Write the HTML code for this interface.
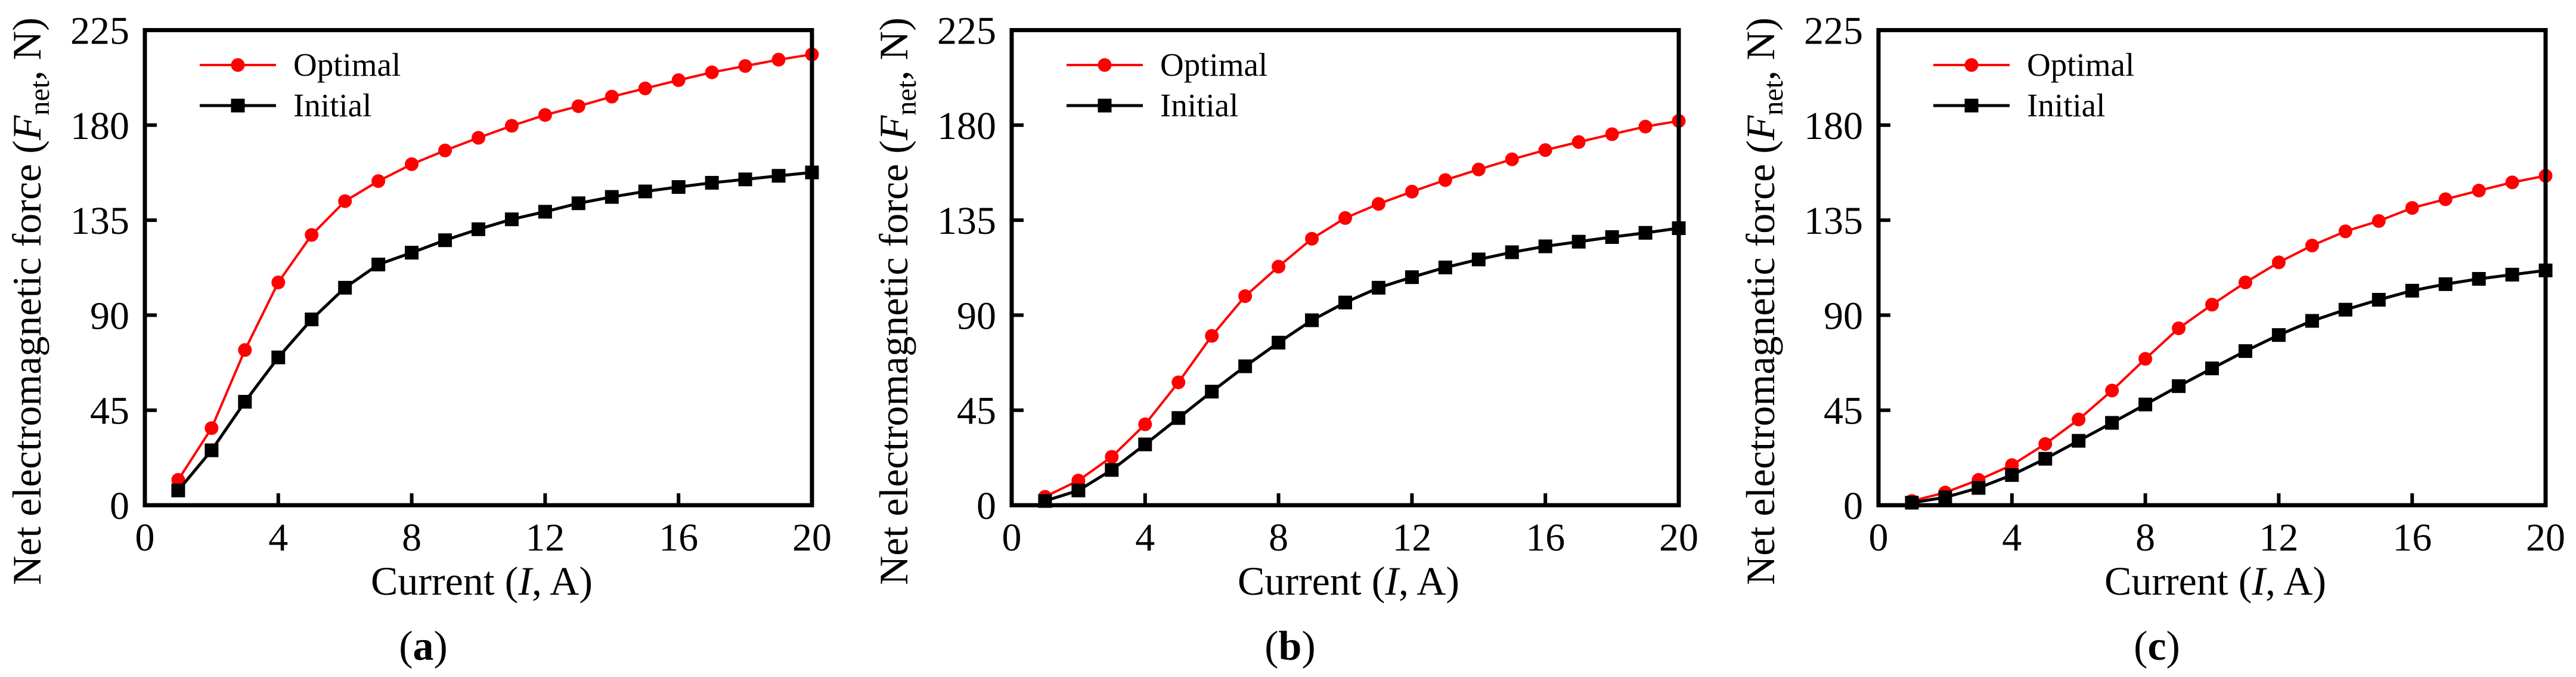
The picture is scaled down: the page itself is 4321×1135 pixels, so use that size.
<!DOCTYPE html>
<html><head><meta charset="utf-8"><style>
html,body{margin:0;padding:0;background:#fff;}
svg{display:block;font-family:"Liberation Serif","Times New Roman",serif;}
</style></head><body>
<svg id="fig" width="4321" height="1135" viewBox="0 0 4321 1135" xmlns="http://www.w3.org/2000/svg"></svg>
<script>
const currents = [1,2,3,4,5,6,7,8,9,10,11,12,13,14,15,16,17,18,19,20];
const optimalA = [12,36.5,73.5,105.5,128,144,153.5,161.5,168,174,179.7,184.8,189,193.5,197.4,201.3,205,208,211,213.5];
const initialA = [7,26,49,70,88,103,114,119.6,125.5,130.7,135.4,139,143,146,148.6,150.7,152.7,154.3,156,157.6];
const optimalB = [4,11.7,22.9,38.3,58.2,80.2,99,113,126.2,136,142.7,148.5,154,159,163.8,168.2,172,175.7,179.3,182];
const initialB = [2,7,16.7,28.8,41.3,53.8,65.8,77,87.6,96,103,108,112.6,116.4,119.8,122.6,124.8,127,129,131.2];
const optimalC = [2,6,12,19,29,40.6,54.3,69.3,83.8,95,105.5,115,123,129.7,134.6,140.8,144.9,149,152.9,156];
const initialC = [1.2,3.7,8.2,14.3,22,30.5,39,47.7,56.4,64.8,73,80.6,87.3,92.6,97.3,101.6,104.7,107.2,109.2,111.2];
const xTicks = [0,4,8,12,16,20];
const yTicks = [0,45,90,135,180,225];
const panelLabels = ['a','b','c'];

const NS='http://www.w3.org/2000/svg';
const svg=document.getElementById('fig');
function mk(tag,attrs,parent){const e=document.createElementNS(NS,tag);for(const k in attrs)e.setAttribute(k,attrs[k]);(parent||svg).appendChild(e);return e;}

const panels=[[optimalA,initialA],[optimalB,initialB],[optimalC,initialC]];
const W=1119,H=796.5,TOP=50.5;
panels.forEach((series,pi)=>{
  const L=243+pi*1454;
  const g=mk('g',{});
  
  
  const xs=v=>L+v/20*W;
  const ys=v=>TOP+H-v/225*H;
  // ticks
  xTicks.forEach(t=>{
    if(t>0&&t<20){const tk=mk('line',{x1:xs(t),x2:xs(t),y1:TOP+H,y2:TOP+H-20,stroke:'#000','stroke-width':6},g);
    }
    const tl=mk('text',{x:xs(t),y:923,'font-size':66,'text-anchor':'middle'},g);tl.textContent=t;
    
  });
  yTicks.forEach(t=>{
    if(t>0&&t<225){const tk=mk('line',{x1:L,x2:L+20,y1:ys(t),y2:ys(t),stroke:'#000','stroke-width':6},g);
    }
    const tl=mk('text',{x:L-26,y:ys(t)+23,'font-size':66,'text-anchor':'end'},g);tl.textContent=t;
    
  });
  // series
  const colors=['#ff0000','#000000'];
  series.forEach((vals,si)=>{
    const pts=currents.map((c,i)=>xs(c)+','+ys(vals[i])).join(' ');
    const pl=mk('polyline',{points:pts,fill:'none',stroke:colors[si],'stroke-width':si?5:4,'stroke-linejoin':'round'},g);
    
    currents.forEach((c,i)=>{
      let m;
      if(si===0) m=mk('circle',{cx:xs(c),cy:ys(vals[i]),r:11.5,fill:colors[si]},g);
      else m=mk('rect',{x:xs(c)-11.5,y:ys(vals[i])-11.5,width:23,height:23,fill:colors[si]},g);
      
    });
  });
  // frame
  const fr=mk('rect',{x:L,y:TOP,width:W,height:H,fill:'none',stroke:'#000','stroke-width':7},g);
  
  // legend
  const ly=[109,177];
  ['Optimal','Initial'].forEach((name,si)=>{
    const lg=mk('g',{},g);
    
    mk('line',{x1:L+92,x2:L+220,y1:ly[si],y2:ly[si],stroke:colors[si],'stroke-width':si?5:4},lg);
    if(si===0) mk('circle',{cx:L+156,cy:ly[si],r:11.5,fill:colors[si]},lg);
    else mk('rect',{x:L+144.5,y:ly[si]-11.5,width:23,height:23,fill:colors[si]},lg);
    const t=mk('text',{x:L+249,y:ly[si]+18,'font-size':55},lg);t.textContent=name;
  });
  // axis titles
  const xt=mk('text',{x:L+565,y:997,'font-size':68,'text-anchor':'middle'},g);
  xt.innerHTML='Current (<tspan font-style="italic">I</tspan>, A)';
  
  const yt=mk('text',{x:0,y:0,'font-size':68,'text-anchor':'middle',transform:'translate('+(L-175)+',505) rotate(-90)'},g);
  yt.innerHTML='Net electromagnetic force (<tspan font-style="italic">F</tspan><tspan font-size="48" dy="14">net</tspan><tspan dy="-14">, N)</tspan>';
  
  const pl=mk('text',{x:L+467,y:1106,'font-size':70,'text-anchor':'middle'},g);
  pl.innerHTML='(<tspan font-weight="bold">'+panelLabels[pi]+'</tspan>)';
  
});
</script>
</body></html>
